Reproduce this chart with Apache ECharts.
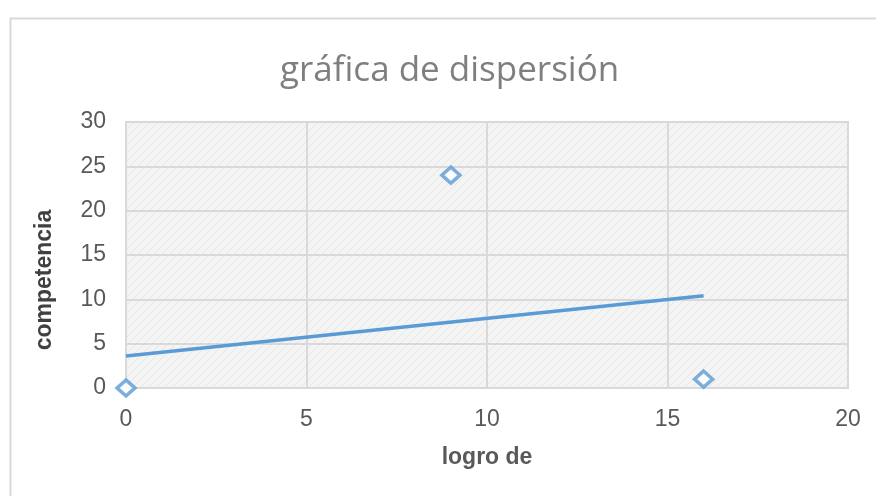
<!DOCTYPE html>
<html>
<head>
<meta charset="utf-8">
<script src="https://cdn.jsdelivr.net/npm/echarts@6/dist/echarts.min.js"></script>
<style>html,body{margin:0;padding:0;background:#fff}#c{width:876px;height:496px}</style>
</head>
<body>
<div id="c"></div>
<script>
const titleText = 'gráfica de dispersión';
const xName = 'logro de';
const yName = 'competencia';
const pointsX = [0, 9, 16];
const pointsY = [0, 24, 1];
const trendX = [0, 16];
const trendY = [3.6, 10.4];

const tile = document.createElement('canvas');
tile.width = 8; tile.height = 8;
const g = tile.getContext('2d');
g.fillStyle = '#f4f4f4'; g.fillRect(0, 0, 8, 8);
g.strokeStyle = '#e6e6e6'; g.lineWidth = 1;
g.beginPath(); g.moveTo(0, 8); g.lineTo(8, 0); g.stroke();

const chart = echarts.init(document.getElementById('c'), null, {renderer: 'canvas'});
chart.setOption({
  animation: false,
  backgroundColor: '#fff',
  title: {
    text: titleText, left: 275, top: 49,
    textStyle: {fontFamily: 'Open Sans', fontWeight: 'normal', fontSize: 35, color: '#7f7f7f'}
  },
  graphic: [{
    type: 'rect', left: 8, top: 16, z: -1,
    shape: {width: 900, height: 500},
    style: {fill: 'none', stroke: '#d9d9d9', lineWidth: 2}
  }],
  grid: {
    left: 126, right: 28, top: 122, bottom: 108,
    show: true, backgroundColor: {image: tile, repeat: 'repeat'},
    borderColor: '#d9d9d9', borderWidth: 2
  },
  xAxis: {
    type: 'value', min: 0, max: 20, interval: 5,
    name: xName, nameLocation: 'middle', nameGap: 58,
    nameTextStyle: {fontFamily: 'Liberation Sans', fontWeight: 'bold', fontSize: 23, color: '#595959'},
    axisLine: {show: false}, axisTick: {show: false},
    axisLabel: {fontFamily: 'Liberation Sans', fontSize: 23, color: '#595959', margin: 20},
    splitLine: {lineStyle: {color: '#d9d9d9', width: 2}}
  },
  yAxis: {
    type: 'value', min: 0, max: 30, interval: 5,
    name: yName, nameLocation: 'middle', nameGap: 70,
    nameTextStyle: {fontFamily: 'Liberation Sans', fontWeight: 'bold', fontSize: 23, color: '#404040', padding: [0, 50, 0, 0]},
    axisLine: {show: false}, axisTick: {show: false},
    axisLabel: {fontFamily: 'Liberation Sans', fontSize: 23, color: '#595959', margin: 20},
    splitLine: {lineStyle: {color: '#d9d9d9', width: 2}}
  },
  series: [{
    type: 'line',
    data: trendX.map((x, i) => [x, trendY[i]]),
    showSymbol: false, symbol: 'none',
    lineStyle: {color: '#5b9bd5', width: 3.5}
  }, {
    type: 'scatter', clip: false,
    data: pointsX.map((x, i) => [x, pointsY[i]]),
    symbol: 'diamond', symbolSize: [18, 16],
    itemStyle: {color: '#ffffff', borderColor: '#5b9bd5', borderWidth: 3.5}
  }]
});
</script>
</body>
</html>
